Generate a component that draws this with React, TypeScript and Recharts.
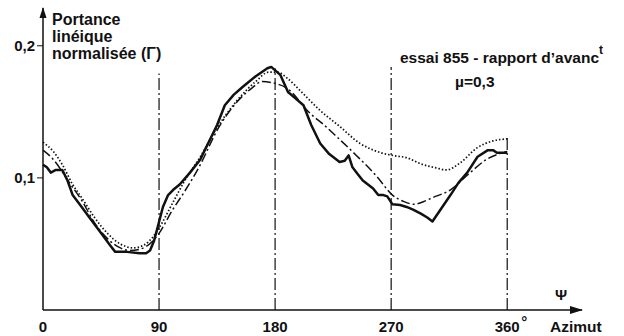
import { LineChart, Line, XAxis, YAxis, ReferenceLine, ReferenceDot } from 'recharts'

// azimut (deg) / normalised lift
const solidPsi = [0, 3, 6, 10, 15, 19, 23, 30, 36, 46, 52, 56, 65, 75, 80, 83, 86, 89, 93, 97, 101, 106, 114, 122, 130, 135, 141, 148, 155, 165, 174, 177, 184, 190, 196, 202, 208, 215, 222, 230, 234, 237, 240, 244, 248, 252, 256, 260, 264, 267, 271, 277, 282, 287, 293, 298, 302, 309, 316, 322, 329, 337, 345, 349, 352, 356, 360]
const solidVal = [0.110, 0.108, 0.104, 0.106, 0.106, 0.098, 0.087, 0.078, 0.070, 0.057, 0.049, 0.044, 0.044, 0.043, 0.043, 0.045, 0.052, 0.063, 0.078, 0.087, 0.091, 0.095, 0.104, 0.114, 0.130, 0.140, 0.155, 0.163, 0.169, 0.177, 0.183, 0.184, 0.178, 0.165, 0.160, 0.155, 0.140, 0.126, 0.118, 0.112, 0.113, 0.117, 0.108, 0.103, 0.098, 0.095, 0.092, 0.087, 0.087, 0.086, 0.080, 0.0795, 0.078, 0.076, 0.073, 0.070, 0.067, 0.077, 0.087, 0.096, 0.104, 0.116, 0.121, 0.121, 0.119, 0.119, 0.119]

const dashPsi = [0, 8, 20, 30, 40, 50, 60, 67, 75, 85, 90, 100, 110, 122, 135, 150, 162, 170, 178, 189, 207, 218, 228, 243, 259, 271, 280, 288, 295, 302, 316, 329, 344, 360]
const dashVal = [0.121, 0.114, 0.097, 0.083, 0.066, 0.054, 0.047, 0.045, 0.046, 0.052, 0.058, 0.075, 0.090, 0.110, 0.136, 0.157, 0.168, 0.173, 0.172, 0.168, 0.149, 0.140, 0.131, 0.117, 0.101, 0.087, 0.082, 0.080, 0.082, 0.085, 0.091, 0.102, 0.114, 0.120]

const dotPsi = [0, 8, 15, 23, 30, 40, 50, 60, 70, 78, 85, 90, 100, 110, 122, 135, 150, 165, 175, 182, 190, 199, 215, 230, 246, 259, 271, 283, 292, 305, 313, 323, 337, 349, 360]
const dotVal = [0.127, 0.120, 0.110, 0.095, 0.085, 0.070, 0.058, 0.050, 0.047, 0.049, 0.055, 0.062, 0.080, 0.098, 0.116, 0.138, 0.158, 0.173, 0.180, 0.180, 0.175, 0.1665, 0.151, 0.139, 0.126, 0.120, 0.117, 0.115, 0.111, 0.1075, 0.106, 0.111, 0.123, 0.128, 0.1295]

const xTicks = [0, 90, 180, 270, 360]
const yTicks = [0.1, 0.2]
const guideX = [90, 180, 270, 360]
const guideTop = [0.179, 0.183, 0.184, 0.131]

const toRows = (psi: number[], val: number[]) => psi.map((p, i) => ({ psi: p, v: val[i] }))
const solidData = toRows(solidPsi, solidVal)
const dashData = toRows(dashPsi, dashVal)
const dotData = toRows(dotPsi, dotVal)

const INK = '#111'
const FONT = '"Liberation Sans", Arial, sans-serif'

function PsiTick(props: any) {
  const { x, y, payload } = props
  const v = payload.value
  return (
    <g>
      <text x={x} y={y + 14} textAnchor="middle" fontFamily={FONT} fontWeight="bold" fontSize={15} fill={INK}>{v}</text>
      {v === 360 && (
        <text x={x + 14} y={y + 9} fontFamily={FONT} fontWeight="bold" fontSize={15} fill={INK}>°</text>
      )}
    </g>
  )
}

export default function App() {
  return (
    <div style={{ position: 'absolute', left: 0, top: 0, width: 624, height: 336, background: '#fff' }}>
      <LineChart width={624} height={336} margin={{ top: 8, right: 42, bottom: 0, left: 0 }}>
        <XAxis
          type="number"
          dataKey="psi"
          domain={[0, 418]}
          ticks={xTicks}
          interval={0}
          tickLine={false}
          height={26}
          axisLine={{ stroke: INK, strokeWidth: 1.5 }}
          tick={(p: any) => <PsiTick {...p} />}
        />
        <YAxis
          type="number"
          domain={[0, 0.2286]}
          ticks={yTicks}
          width={43}
          tickSize={6}
          allowDataOverflow
          axisLine={{ stroke: INK, strokeWidth: 1.5 }}
          tickLine={{ stroke: INK }}
          tick={{ fontFamily: FONT, fontWeight: 'bold', fontSize: 15, fill: INK }}
          tickFormatter={(v: number) => String(v).replace('.', ',')}
        />
        {guideX.map((gx, i) => (
          <ReferenceLine
            key={gx}
            segment={[{ x: gx, y: 0 }, { x: gx, y: guideTop[i] }]}
            stroke={INK}
            strokeWidth={1.2}
            strokeDasharray="12 3 2 3"
          />
        ))}
        <Line data={dotData} dataKey="v" type="monotone" stroke={INK} strokeWidth={1.7} strokeDasharray="1.5 2" dot={false} isAnimationActive={false} />
        <Line data={dashData} dataKey="v" type="monotone" stroke={INK} strokeWidth={1.5} strokeDasharray="9 3 2 3" dot={false} isAnimationActive={false} />
        <Line data={solidData} dataKey="v" type="linear" stroke={INK} strokeWidth={2.5} strokeLinejoin="round" dot={false} isAnimationActive={false} />
        <ReferenceDot
          x={418}
          y={0}
          r={4}
          ifOverflow="visible"
          shape={(p: any) => <path d={`M${p.cx + 1},${p.cy} l-13,-4 l0,8 z`} fill={INK} />}
        />
        <ReferenceDot
          x={0}
          y={0.2286}
          r={4}
          ifOverflow="visible"
          shape={(p: any) => <path d={`M${p.cx},${p.cy - 1} l-3.5,11 l7,0 z`} fill={INK} />}
        />
      </LineChart>
      <svg width={624} height={336} style={{ position: 'absolute', left: 0, top: 0, pointerEvents: 'none' }}>
        <g fontFamily={FONT} fontWeight="bold" fill={INK}>
          <text x={52} y={25} fontSize={16}>Portance</text>
          <text x={52} y={42} fontSize={16}>linéique</text>
          <text x={52} y={59} fontSize={16}>normalisée (Γ)</text>
          <text x={400} y={63} fontSize={15.5}>
            essai 855 - rapport d’avanc<tspan dy={-9} fontSize={12}>t</tspan>
          </text>
          <text x={455} y={87} fontSize={15.5}>µ=0,3</text>
          <text x={561} y={300} fontSize={15} textAnchor="middle">Ψ</text>
          <text x={550} y={332} fontSize={15.5}>Azimut</text>
        </g>
      </svg>
    </div>
  )
}
